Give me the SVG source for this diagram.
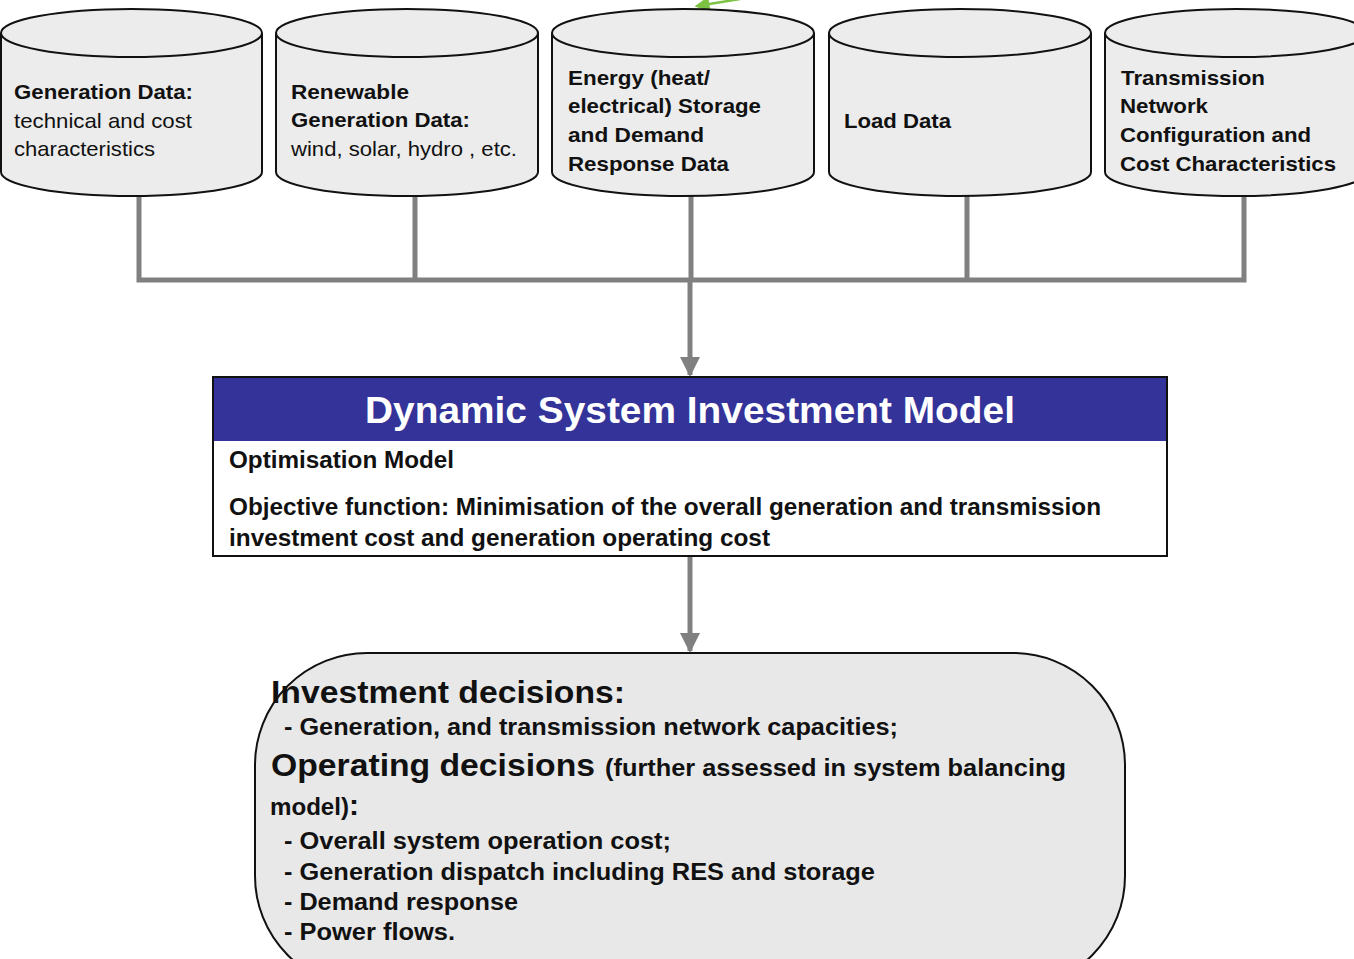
<svg xmlns="http://www.w3.org/2000/svg" width="1354" height="959" viewBox="0 0 1354 959">
<style>
.cyl{fill:#ececec;stroke:#111;stroke-width:2}
.t{font-family:"Liberation Sans",Arial,sans-serif;fill:#111}
.b{font-weight:bold}
.c{fill:none;stroke:#808080;stroke-width:5}
.s{font-size:21px}
.m{font-size:23px;font-weight:bold}
</style>
<defs>
<marker id="ah" markerWidth="4" markerHeight="4" refX="3.6" refY="2" orient="auto" markerUnits="strokeWidth">
<path d="M0,0 L4,2 L0,4 Z" fill="#808080"/>
</marker>
<marker id="gh" markerWidth="6" markerHeight="6" refX="5" refY="3" orient="auto" markerUnits="strokeWidth">
<path d="M0,0 L6,3 L0,6 Z" fill="#7dc242"/>
</marker>
</defs>
<g id="connectors">
<path class="c" d="M139,195 V280 M415,195 V280 M691,195 V280 M967,195 V280 M1244,195 V280 M136.5,280 H1246.5"/>
<path class="c" d="M690,280 V375" marker-end="url(#ah)"/>
<path class="c" d="M690,557 V651" marker-end="url(#ah)"/>
<path d="M740,-1 L697,6" stroke="#7dc242" stroke-width="2.5" fill="none" marker-end="url(#gh)"/>
</g>
<g id="cyl1">
<path class="cyl" d="M1,33 V172 A130.5,24 0 0 0 262,172 V33"/>
<ellipse class="cyl" cx="131.5" cy="33" rx="130.5" ry="24"/>
<text class="t b s" x="14" y="99" textLength="179" lengthAdjust="spacingAndGlyphs">Generation Data:</text>
<text class="t s" x="14" y="128" textLength="178" lengthAdjust="spacingAndGlyphs">technical and cost</text>
<text class="t s" x="14" y="156" textLength="141" lengthAdjust="spacingAndGlyphs">characteristics</text>
</g>
<g id="cyl2">
<path class="cyl" d="M276,33 V172 A131,24 0 0 0 538,172 V33"/>
<ellipse class="cyl" cx="407" cy="33" rx="131" ry="24"/>
<text class="t b s" x="291" y="99" textLength="118" lengthAdjust="spacingAndGlyphs">Renewable</text>
<text class="t b s" x="291" y="127" textLength="179" lengthAdjust="spacingAndGlyphs">Generation Data:</text>
<text class="t s" x="291" y="156" textLength="226" lengthAdjust="spacingAndGlyphs">wind, solar, hydro , etc.</text>
</g>
<g id="cyl3">
<path class="cyl" d="M552,33 V172 A131,24 0 0 0 814,172 V33"/>
<ellipse class="cyl" cx="683" cy="33" rx="131" ry="24"/>
<text class="t b s" x="568" y="85" textLength="142" lengthAdjust="spacingAndGlyphs">Energy (heat/</text>
<text class="t b s" x="568" y="113" textLength="193" lengthAdjust="spacingAndGlyphs">electrical) Storage</text>
<text class="t b s" x="568" y="142" textLength="136" lengthAdjust="spacingAndGlyphs">and Demand</text>
<text class="t b s" x="568" y="171" textLength="161" lengthAdjust="spacingAndGlyphs">Response Data</text>
</g>
<g id="cyl4">
<path class="cyl" d="M829,33 V172 A131,24 0 0 0 1091,172 V33"/>
<ellipse class="cyl" cx="960" cy="33" rx="131" ry="24"/>
<text class="t b s" x="844" y="128" textLength="107" lengthAdjust="spacingAndGlyphs">Load Data</text>
</g>
<g id="cyl5">
<path class="cyl" d="M1105,33 V172 A131,24 0 0 0 1367,172 V33"/>
<ellipse class="cyl" cx="1236" cy="33" rx="131" ry="24"/>
<text class="t b s" x="1121" y="85" textLength="144" lengthAdjust="spacingAndGlyphs">Transmission</text>
<text class="t b s" x="1120" y="113" textLength="88" lengthAdjust="spacingAndGlyphs">Network</text>
<text class="t b s" x="1120" y="142" textLength="191" lengthAdjust="spacingAndGlyphs">Configuration and</text>
<text class="t b s" x="1120" y="171" textLength="216" lengthAdjust="spacingAndGlyphs">Cost Characteristics</text>
</g>
<g id="model">
<rect x="213" y="377" width="954" height="179" fill="#fff" stroke="#111" stroke-width="2"/>
<rect x="214" y="378" width="952" height="63" fill="#333399"/>
<text class="t b" x="365" y="423" font-size="37" style="fill:#fff" textLength="650" lengthAdjust="spacingAndGlyphs">Dynamic System Investment Model</text>
<text class="t m" x="229" y="468" textLength="225" lengthAdjust="spacingAndGlyphs">Optimisation Model</text>
<text class="t m" x="229" y="515" textLength="872" lengthAdjust="spacingAndGlyphs">Objective function: Minimisation of the overall generation and transmission</text>
<text class="t m" x="229" y="546" textLength="541" lengthAdjust="spacingAndGlyphs">investment cost and generation operating cost</text>
</g>
<g id="decisions">
<rect x="255" y="653" width="870" height="335" rx="112" ry="112" fill="#e8e8e8" stroke="#111" stroke-width="2"/>
<text class="t b" x="271" y="703" font-size="32" textLength="354" lengthAdjust="spacingAndGlyphs">Investment decisions:</text>
<text class="t m" x="284" y="735" textLength="614" lengthAdjust="spacingAndGlyphs">- Generation,  and transmission  network capacities;</text>
<text class="t b" x="271" y="776" font-size="32" textLength="324" lengthAdjust="spacingAndGlyphs">Operating decisions</text>
<text class="t m" x="605" y="776" textLength="461" lengthAdjust="spacingAndGlyphs">(further  assessed  in  system  balancing</text>
<text class="t m" x="270" y="815" textLength="79" lengthAdjust="spacingAndGlyphs">model)</text>
<text class="t b" x="349" y="815" font-size="30">:</text>
<text class="t m" x="284" y="849" textLength="387" lengthAdjust="spacingAndGlyphs">- Overall  system  operation  cost;</text>
<text class="t m" x="284" y="880" textLength="591" lengthAdjust="spacingAndGlyphs">- Generation  dispatch  including  RES and storage</text>
<text class="t m" x="284" y="910" textLength="234" lengthAdjust="spacingAndGlyphs">- Demand response</text>
<text class="t m" x="284" y="940" textLength="171" lengthAdjust="spacingAndGlyphs">- Power flows.</text>
</g>
</svg>
